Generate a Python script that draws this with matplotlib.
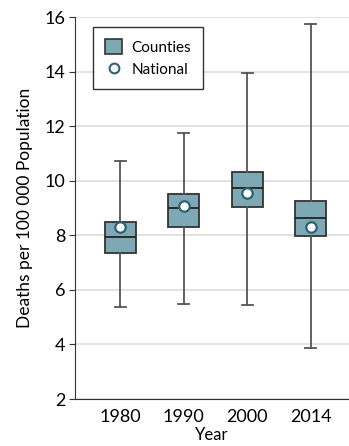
import matplotlib
matplotlib.use("Agg")
import matplotlib.pyplot as plt
from matplotlib.patches import Patch
from matplotlib.lines import Line2D

years = ["1980", "1990", "2000", "2014"]
whisker_low = [5.36, 5.50, 5.45, 3.87]
box_low = [7.34, 8.32, 9.05, 7.96]
median = [7.95, 8.99, 9.72, 8.62]
box_high = [8.50, 9.50, 10.33, 9.27]
whisker_high = [10.73, 11.76, 13.95, 15.74]
national = [8.29, 9.07, 9.55, 8.32]

plt.rcParams['font.family'] = ['Lato', 'DejaVu Sans']

fig = plt.figure(figsize=(3.49, 4.46), dpi=100)
ax = fig.add_axes([75 / 349, 47 / 446, 274 / 349, 382 / 446])

stats = []
for i, y in enumerate(years):
    stats.append(dict(label=y, whislo=whisker_low[i], q1=box_low[i], med=median[i],
                      q3=box_high[i], whishi=whisker_high[i], fliers=[]))

pos = list(range(1, len(years) + 1))
ax.bxp(stats, positions=pos, widths=0.49, patch_artist=True, showfliers=False,
       boxprops=dict(facecolor="#7fa8b5", edgecolor="#333333", linewidth=1.3),
       medianprops=dict(color="#222222", linewidth=1.3),
       whiskerprops=dict(color="#555555", linewidth=1.3),
       capprops=dict(color="#555555", linewidth=1.3), capwidths=0.17)
ax.plot(pos, national, 'o', markersize=7.5, markerfacecolor="white",
        markeredgecolor="#2c6274", markeredgewidth=1.6, linestyle="none", zorder=5)

ax.set_xlim(0.29, 4.6)
ax.set_ylim(2, 16)
ax.set_yticks([2, 4, 6, 8, 10, 12, 14, 16])
ax.set_xticks(pos)
ax.set_xticklabels(years)
ax.yaxis.grid(True, color="#dddddd", linewidth=1.2)
ax.set_axisbelow(True)
for s in ["top", "right"]:
    ax.spines[s].set_visible(False)
ax.spines["left"].set_color("#333333")
ax.spines["bottom"].set_color("#333333")
ax.tick_params(axis="y", length=4, labelsize=13, color="#333333", pad=3)
ax.tick_params(axis="x", length=0, labelsize=13, pad=7)
ax.set_ylabel("Deaths per 100 000 Population", fontsize=12.5, labelpad=8)
ax.set_xlabel("Year", fontsize=12, labelpad=2)

handles = [Patch(facecolor="#7fa8b5", edgecolor="#333333", linewidth=1.2, label="Counties"),
           Line2D([], [], marker='o', linestyle="none", markerfacecolor="white",
                  markeredgecolor="#2c6274", markeredgewidth=1.5, markersize=7, label="National")]
leg = ax.legend(handles=handles, loc="upper left", bbox_to_anchor=(0.066, 0.974),
                borderaxespad=0, fontsize=11, fancybox=False, framealpha=1,
                edgecolor="#333333", handlelength=1.1, handleheight=1.1,
                handletextpad=0.6, borderpad=0.8, labelspacing=0.45)
leg.get_frame().set_linewidth(1.0)

fig.savefig("out.png", dpi=100)
